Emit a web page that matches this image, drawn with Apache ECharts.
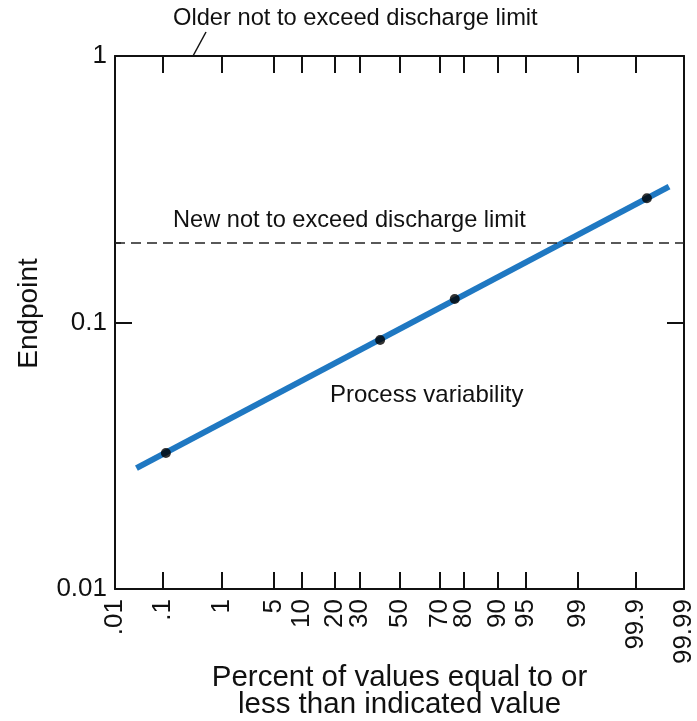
<!DOCTYPE html>
<html>
<head>
<meta charset="utf-8">
<script src="https://cdn.jsdelivr.net/npm/echarts@6/dist/echarts.min.js"></script>
<style>
  html, body { margin: 0; padding: 0; background: #fff; }
  #chart { width: 697px; height: 721px; }
</style>
</head>
<body>
<div id="chart"></div>
<script>
// percent ticks on the probability axis
const pctTicks = [0.01, 0.1, 1, 5, 10, 20, 30, 50, 70, 80, 90, 95, 99, 99.9, 99.99];
const pctLabels = ['.01', '.1', '1', '5', '10', '20', '30', '50', '70', '80', '90', '95', '99', '99.9', '99.99'];
const yTicks = [0.01, 0.1, 1];
const yLabels = ['0.01', '0.1', '1'];

// observed points (percent, endpoint)
const pointPct = [0.113, 40, 76.5, 99.939];
const pointVal = [0.0324, 0.086, 0.1225, 0.2924];

// fitted process line ends
const fitPct = [0.0292, 99.9787];
const fitVal = [0.0284, 0.3233];

const newLimit = 0.2;

// inverse normal cdf (Acklam)
function probit(p) {
  const a = [-3.969683028665376e+01, 2.209460984245205e+02, -2.759285104469687e+02, 1.383577518672690e+02, -3.066479806614716e+01, 2.506628277459239e+00];
  const b = [-5.447609879822406e+01, 1.615858368580409e+02, -1.556989798598866e+02, 6.680131188771972e+01, -1.328068155288572e+01];
  const c = [-7.784894002430293e-03, -3.223964580411365e-01, -2.400758277161838e+00, -2.549732539343734e+00, 4.374664141464968e+00, 2.938163982698783e+00];
  const d = [7.784695709041462e-03, 3.224671290700398e-01, 2.445134137142996e+00, 3.754408661907416e+00];
  const pl = 0.02425;
  let q, r;
  if (p < pl) {
    q = Math.sqrt(-2 * Math.log(p));
    return (((((c[0]*q+c[1])*q+c[2])*q+c[3])*q+c[4])*q+c[5]) / ((((d[0]*q+d[1])*q+d[2])*q+d[3])*q+1);
  } else if (p <= 1 - pl) {
    q = p - 0.5; r = q*q;
    return (((((a[0]*r+a[1])*r+a[2])*r+a[3])*r+a[4])*r+a[5])*q / (((((b[0]*r+b[1])*r+b[2])*r+b[3])*r+b[4])*r+1);
  }
  q = Math.sqrt(-2 * Math.log(1 - p));
  return -(((((c[0]*q+c[1])*q+c[2])*q+c[3])*q+c[4])*q+c[5]) / ((((d[0]*q+d[1])*q+d[2])*q+d[3])*q+1);
}
const z = pct => probit(pct / 100);

const tickZ = pctTicks.map(z);
const font = 'Liberation Sans, Arial, Helvetica, sans-serif';

function xLabel(v) {
  let best = 0;
  tickZ.forEach((t, i) => { if (Math.abs(t - v) < Math.abs(tickZ[best] - v)) best = i; });
  return pctLabels[best];
}
function yLabel(v) {
  let best = 0;
  yTicks.forEach((t, i) => { if (Math.abs(Math.log10(t) - Math.log10(v)) < Math.abs(Math.log10(yTicks[best]) - Math.log10(v))) best = i; });
  return yLabels[best];
}

const chart = echarts.init(document.getElementById('chart'), null, {renderer: 'canvas'});
const axisLine = {show: true, onZero: false, lineStyle: {color: '#111', width: 2}};

chart.setOption({
  animation: false,
  textStyle: {fontFamily: font, color: '#111'},
  grid: {left: 115, right: 13, top: 56, bottom: 132, containLabel: false, outerBoundsMode: 'none'},
  xAxis: [
    {
      type: 'value', position: 'bottom',
      min: z(pctTicks[0]), max: z(pctTicks[pctTicks.length - 1]),
      axisLine: axisLine,
      splitLine: {show: false},
      axisTick: {inside: true, length: 17, customValues: tickZ, lineStyle: {color: '#111', width: 2}},
      axisLabel: {
        customValues: tickZ, rotate: 90, margin: 10, fontSize: 26, color: '#111', fontFamily: font,
        formatter: xLabel
      },
      name: 'Percent of values equal to or\nless than indicated value',
      nameLocation: 'middle', nameGap: 75, nameMoveOverlap: false,
      nameTextStyle: {fontSize: 29.5, lineHeight: 27, color: '#111', fontFamily: font}
    },
    {
      type: 'value', position: 'top',
      min: z(pctTicks[0]), max: z(pctTicks[pctTicks.length - 1]),
      axisLine: axisLine,
      splitLine: {show: false},
      axisTick: {inside: true, length: 17, customValues: tickZ, lineStyle: {color: '#111', width: 2}},
      axisLabel: {show: false}
    }
  ],
  yAxis: [
    {
      type: 'log', logBase: 10, min: 0.01, max: 1, position: 'left',
      axisLine: axisLine,
      splitLine: {show: false},
      axisTick: {inside: true, length: 17, customValues: yTicks, lineStyle: {color: '#111', width: 2}},
      axisLabel: {customValues: yTicks, margin: 8, fontSize: 26, color: '#111', fontFamily: font, formatter: yLabel},
      name: 'Endpoint', nameLocation: 'middle', nameGap: 72, nameRotate: 90,
      nameTextStyle: {fontSize: 28, color: '#111', fontFamily: font, padding: [0, 0, 0, 18]}
    },
    {
      type: 'log', logBase: 10, min: 0.01, max: 1, position: 'right',
      axisLine: axisLine,
      splitLine: {show: false},
      axisTick: {inside: true, length: 17, customValues: [0.1], lineStyle: {color: '#111', width: 2}},
      axisLabel: {show: false}
    },
    {
      type: 'log', logBase: 10, min: 0.01, max: 1, position: 'left',
      axisLine: {show: false, onZero: false},
      splitLine: {show: false},
      axisTick: {inside: true, length: 6, customValues: [newLimit], lineStyle: {color: '#111', width: 1.5}},
      axisLabel: {show: false}
    }
  ],
  series: [
    {
      name: 'Process variability', type: 'line',
      data: fitPct.map((p, i) => [z(p), fitVal[i]]),
      showSymbol: false, silent: true,
      lineStyle: {color: '#1f78c2', width: 6},
      markLine: {
        silent: true, symbol: 'none', label: {show: false},
        lineStyle: {type: [10, 6], color: '#222', width: 1.5},
        data: [{yAxis: newLimit}]
      },
      z: 2
    },
    {
      name: 'Points', type: 'scatter',
      data: pointPct.map((p, i) => [z(p), pointVal[i]]),
      symbolSize: 10, itemStyle: {color: '#000'}, silent: true,
      z: 3
    }
  ],
  graphic: [
    {type: 'text', left: 173, top: 6, style: {text: 'Older not to exceed discharge limit', font: '23.7px ' + font, fill: '#111'}},
    {type: 'line', shape: {x1: 193, y1: 56, x2: 206, y2: 32}, style: {stroke: '#111', lineWidth: 1.5}},
    {type: 'text', left: 173, top: 208, style: {text: 'New not to exceed discharge limit', font: '23.6px ' + font, fill: '#111'}},
    {type: 'text', left: 330, top: 383, style: {text: 'Process variability', font: '24px ' + font, fill: '#111'}}
  ]
});
</script>
</body>
</html>
